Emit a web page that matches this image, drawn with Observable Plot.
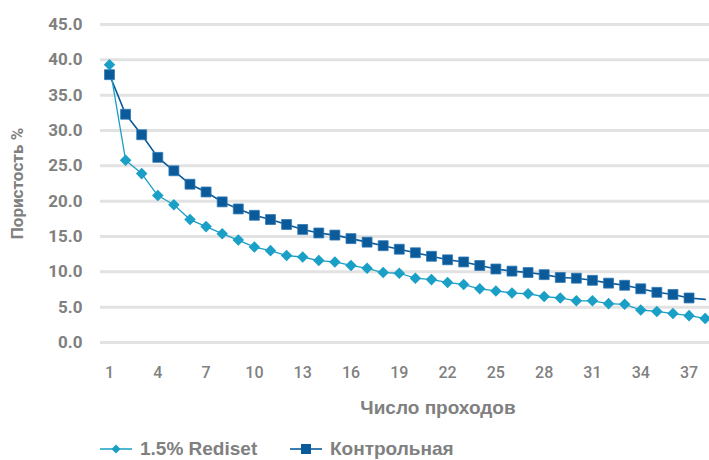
<!DOCTYPE html>
<html><head><meta charset="utf-8">
<script src="https://cdn.jsdelivr.net/npm/d3@7"></script>
<script src="https://cdn.jsdelivr.net/npm/@observablehq/plot@0.6"></script>
<style>
body{margin:0;background:#fff;font-family:Roboto,"Liberation Sans",Arial,sans-serif;}
#legend{position:relative;height:34px;font-family:"Liberation Sans",Arial,sans-serif;font-size:19px;font-weight:700;color:#808080;}
.item{position:absolute;top:12px;display:flex;align-items:center;gap:8px;}
</style></head><body>
<div id="chart"></div>
<div id="legend"></div>
<script>
const passes = [1,2,3,4,5,6,7,8,9,10,11,12,13,14,15,16,17,18,19,20,21,22,23,24,25,26,27,28,29,30,31,32,33,34,35,36,37,38];
const rediset = [39.3,25.8,23.9,20.8,19.5,17.4,16.4,15.4,14.5,13.5,13.0,12.3,12.1,11.6,11.4,10.9,10.5,9.9,9.8,9.1,8.9,8.5,8.2,7.6,7.3,7.0,6.9,6.5,6.3,5.9,5.9,5.5,5.4,4.6,4.4,4.1,3.8,3.4];
const control = [37.9,32.3,29.4,26.2,24.3,22.4,21.3,19.9,18.9,18.0,17.4,16.7,16.0,15.5,15.2,14.7,14.2,13.7,13.2,12.7,12.2,11.7,11.4,10.9,10.4,10.1,9.9,9.6,9.2,9.1,8.8,8.4,8.1,7.6,7.1,6.8,6.3,6.1];
const seriesNames = ["1.5% Rediset","Контрольная"];
const xTicks = [1,4,7,10,13,16,19,22,25,28,31,34,37];
const yTicks = [0,5,10,15,20,25,30,35,40,45];
const colRed = "#1a9fc6", colCtl = "#0b5a9a";

const redData = passes.map((p,i)=>({pass:p, value:rediset[i]}));
const ctlData = passes.map((p,i)=>({pass:p, value:control[i]}));

const chart = Plot.plot({
  width:709, height:426, marginLeft:100, marginRight:0, marginTop:24, marginBottom:84,
  style:{fontFamily:'Roboto,"Liberation Sans",Arial,sans-serif', background:"#fff", color:"#808080"},
  x:{domain:[0.441,38.27]},
  y:{domain:[0,45]},
  marks:[
    Plot.ruleY(yTicks,{stroke:"#e2e2e2", strokeWidth:3}),
    Plot.axisY({ticks:yTicks, tickSize:0, tickPadding:18, tickFormat:d=>d.toFixed(1), fontSize:17, fontWeight:"bold", label:null}),
    Plot.axisX({ticks:xTicks, tickSize:0, tickPadding:24, fontSize:16, fontWeight:500, label:null}),
    Plot.text(["Число проходов"],{frameAnchor:"bottom", dx:33, dy:71, fontFamily:'"Liberation Sans",Arial,sans-serif', fontSize:19, fontWeight:"bold", fill:"#808080"}),
    Plot.text(["Пористость %"],{frameAnchor:"left", textAnchor:"middle", rotate:-90, dx:-83, fontSize:17, fontWeight:"bold", fill:"#808080"}),
    Plot.line(ctlData,{x:"pass", y:"value", stroke:colCtl, strokeWidth:1.6}),
    Plot.line(redData,{x:"pass", y:"value", stroke:colRed, strokeWidth:1.3}),
    Plot.dot(ctlData.filter(d=>d.pass<38),{x:"pass", y:"value", symbol:"square", r:5.6, fill:colCtl, stroke:"#2f7ab5", strokeWidth:0.8}),
    Plot.dot(redData,{x:"pass", y:"value", symbol:"diamond2", r:5.2, fill:colRed})
  ]
});
document.getElementById("chart").appendChild(chart);

const leg = document.getElementById("legend");
const icons = [
  `<svg width="32" height="12"><line x1="0" y1="6" x2="32" y2="6" stroke="${colRed}" stroke-width="1.5"/><path d="M16 1.5 L20.5 6 L16 10.5 L11.5 6Z" fill="${colRed}"/></svg>`,
  `<svg width="32" height="12"><line x1="0" y1="6" x2="32" y2="6" stroke="${colCtl}" stroke-width="1.6"/><rect x="11" y="1" width="10" height="10" fill="${colCtl}"/></svg>`
];
const lefts = [100, 290];
seriesNames.forEach((n,i)=>{
  const d = document.createElement("div");
  d.className="item"; d.style.left = lefts[i]+"px";
  d.innerHTML = icons[i] + `<span>${n}</span>`;
  leg.appendChild(d);
});
</script></body></html>
